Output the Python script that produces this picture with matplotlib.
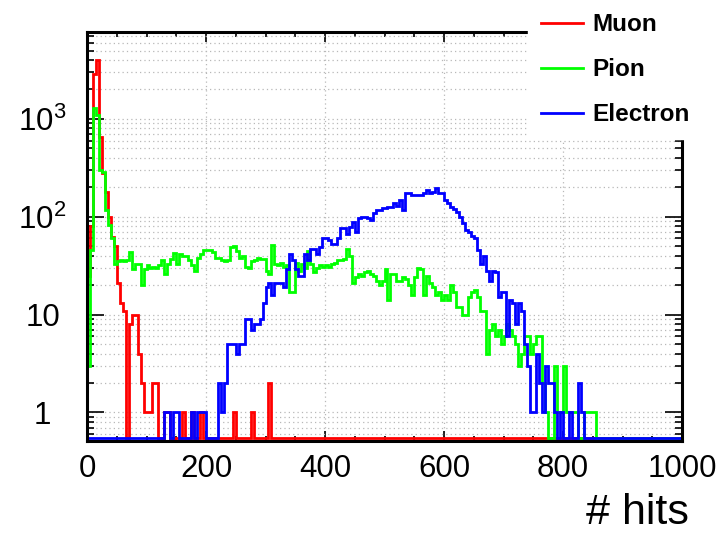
import matplotlib

matplotlib.use("Agg")

import matplotlib.pyplot as plt
import numpy as np
from matplotlib.lines import Line2D
from matplotlib.ticker import (
    FixedFormatter,
    FixedLocator,
    LogLocator,
    MultipleLocator,
    NullFormatter,
)

plt.rcParams["font.family"] = ["Liberation Sans", "DejaVu Sans"]
plt.rcParams["mathtext.fontset"] = "custom"
plt.rcParams["mathtext.rm"] = "Liberation Sans"

# 200 bins of 5 hits between 0 and 1000
N_BINS = 200
BIN_EDGES = np.linspace(0, 1000, N_BINS + 1)

# counts per bin (0 = empty bin)
muon_head = [
    25, 80, 2900, 4000, 650, 280, 180, 100, 62, 50,
    21, 13, 11, 0, 8, 10, 10, 4, 2, 1,
    1, 1, 2, 2, 0, 0, 1, 1, 0, 0,
    0, 0, 1, 0, 0, 1, 0, 0, 1, 0,
    0, 0, 0, 0, 0, 0, 0, 0, 0, 1,
    0, 0, 0, 0, 0, 1, 0, 0, 0, 0,
    0, 2,
]
muon = muon_head + [0] * (N_BINS - len(muon_head))

pion_head = [
    3, 46, 1290, 1100, 300, 290, 117, 83, 60, 33,
    35, 36, 35, 36, 44, 29, 33, 33, 20, 29,
    32, 30, 31, 30, 32, 36, 26, 33, 37, 43,
    33, 42, 40, 40, 36, 32, 28, 38, 42, 46,
    46, 46, 44, 38, 38, 36, 35, 36, 49, 50,
    45, 38, 40, 31, 30, 35, 36, 38, 37, 37,
    28, 26, 51, 33, 32, 34, 31, 32, 17, 17,
    34, 28, 33, 30, 45, 33, 27, 30, 32, 31,
    32, 31, 33, 34, 36, 36, 37, 47, 40, 21,
    24, 26, 25, 27, 28, 26, 25, 22, 20, 22,
    29, 14, 26, 26, 22, 22, 24, 23, 20, 16,
    24, 30, 29, 16, 25, 21, 19, 16, 17, 14,
    16, 14, 20, 17, 12, 12, 10, 10, 15, 17,
    18, 15, 11, 11, 4, 7, 8, 6, 7, 5,
    6, 8, 7, 6, 5, 3, 4, 6, 6, 4,
    5, 6, 6, 2, 1, 0, 0, 3, 1, 1,
    3, 1, 1, 1, 1, 0, 0, 1, 1, 1,
    1,
]
pion = pion_head + [0] * (N_BINS - len(pion_head))

electron_head = [
    0, 0, 0, 0, 0, 0, 0, 0, 0, 0,
    0, 0, 0, 0, 0, 0, 0, 0, 0, 0,
    0, 0, 0, 0, 0, 0, 1, 1, 0, 1,
    1, 0, 0, 0, 0, 1, 0, 1, 1, 1,
    0, 0, 0, 0, 2, 1, 2, 5, 5, 5,
    4, 5, 5, 9, 9, 7, 8, 8, 9, 13,
    19, 21, 16, 21, 21, 21, 19, 29, 42, 36,
    29, 25, 25, 42, 36, 47, 47, 42, 49, 60,
    60, 58, 53, 53, 60, 76, 76, 67, 79, 89,
    70, 96, 100, 100, 96, 92, 108, 117, 117, 122,
    122, 126, 126, 137, 130, 148, 117, 174, 174, 167,
    167, 167, 167, 174, 187, 174, 180, 196, 174, 174,
    150, 137, 126, 120, 112, 100, 86, 73, 70, 63,
    60, 46, 33, 40, 28, 22, 28, 27, 15, 17,
    17, 6, 14, 13, 8, 13, 11, 5, 3, 1,
    1, 4, 2, 1, 3, 2, 2, 1, 0, 1,
    0, 0, 1, 0, 0, 2, 1,
]
electron = electron_head + [0] * (N_BINS - len(electron_head))

series_names = ["Muon", "Pion", "Electron"]
series_colors = ["#ff0000", "#00ff00", "#0000ff"]

Y_RANGE = (0.51, 7740)
ZERO_LEVEL = 0.546  # empty bins are drawn along the bottom of the frame


def main() -> None:
    fig = plt.figure(figsize=(7.25, 5.35), dpi=100)
    ax = fig.add_axes([0.12, 0.1757, 0.8207, 0.7645])

    handles = []
    for counts, name, color in zip([muon, pion, electron], series_names, series_colors):
        values = np.asarray(counts, dtype=float)
        values = np.where(values > 0, values, ZERO_LEVEL)
        ax.stairs(values, BIN_EDGES, baseline=ZERO_LEVEL, color=color, linewidth=2.0, zorder=2)
        handles.append(Line2D([], [], color=color, linewidth=2.0))

    ax.set_yscale("log")
    ax.set_xlim(0, 1000)
    ax.set_ylim(*Y_RANGE)

    ax.xaxis.set_major_locator(MultipleLocator(200))
    ax.xaxis.set_minor_locator(MultipleLocator(50))
    ax.yaxis.set_major_locator(FixedLocator([1, 10, 100, 1000]))
    ax.yaxis.set_major_formatter(
        FixedFormatter(["1", "10", r"$\mathregular{10^{2}}$", r"$\mathregular{10^{3}}$"])
    )
    ax.yaxis.set_minor_locator(LogLocator(base=10, subs=np.arange(2, 10)))
    ax.yaxis.set_minor_formatter(NullFormatter())

    ax.tick_params(axis="both", which="both", direction="in", top=True, right=True,
                   width=1.2, labelsize=22.5)
    ax.tick_params(axis="y", which="major", length=12, pad=32)
    ax.tick_params(axis="y", which="minor", length=5)
    ax.tick_params(axis="x", which="major", length=7, pad=9)
    ax.tick_params(axis="x", which="minor", length=3.5)
    for label in ax.get_yticklabels():
        label.set_horizontalalignment("center")

    grid_style = dict(color="#b8b8b8", linestyle=(0, (1, 2.5)), linewidth=0.9)
    ax.grid(True, axis="x", which="major", **grid_style)
    ax.grid(True, axis="y", which="both", **grid_style)
    ax.set_axisbelow(True)

    for spine in ax.spines.values():
        spine.set_linewidth(2.2)
        spine.set_zorder(3)

    ax.set_xlabel("# hits", fontsize=31, loc="right")
    ax.xaxis.set_label_coords(1.012, -0.128)

    legend = ax.legend(
        handles,
        series_names,
        loc="upper left",
        bbox_to_anchor=(528 / 725, 1.0),
        bbox_transform=fig.transFigure,
        frameon=True,
        fancybox=False,
        framealpha=1.0,
        facecolor="white",
        edgecolor="white",
        borderpad=0.55,
        labelspacing=0.9,
        handlelength=1.7,
        handletextpad=0.4,
        borderaxespad=0.0,
        prop={"weight": "bold", "size": 17.5},
    )
    legend.set_zorder(10)

    fig.savefig("out.png", dpi=100, facecolor="white")
    plt.close(fig)


if __name__ == "__main__":
    main()
